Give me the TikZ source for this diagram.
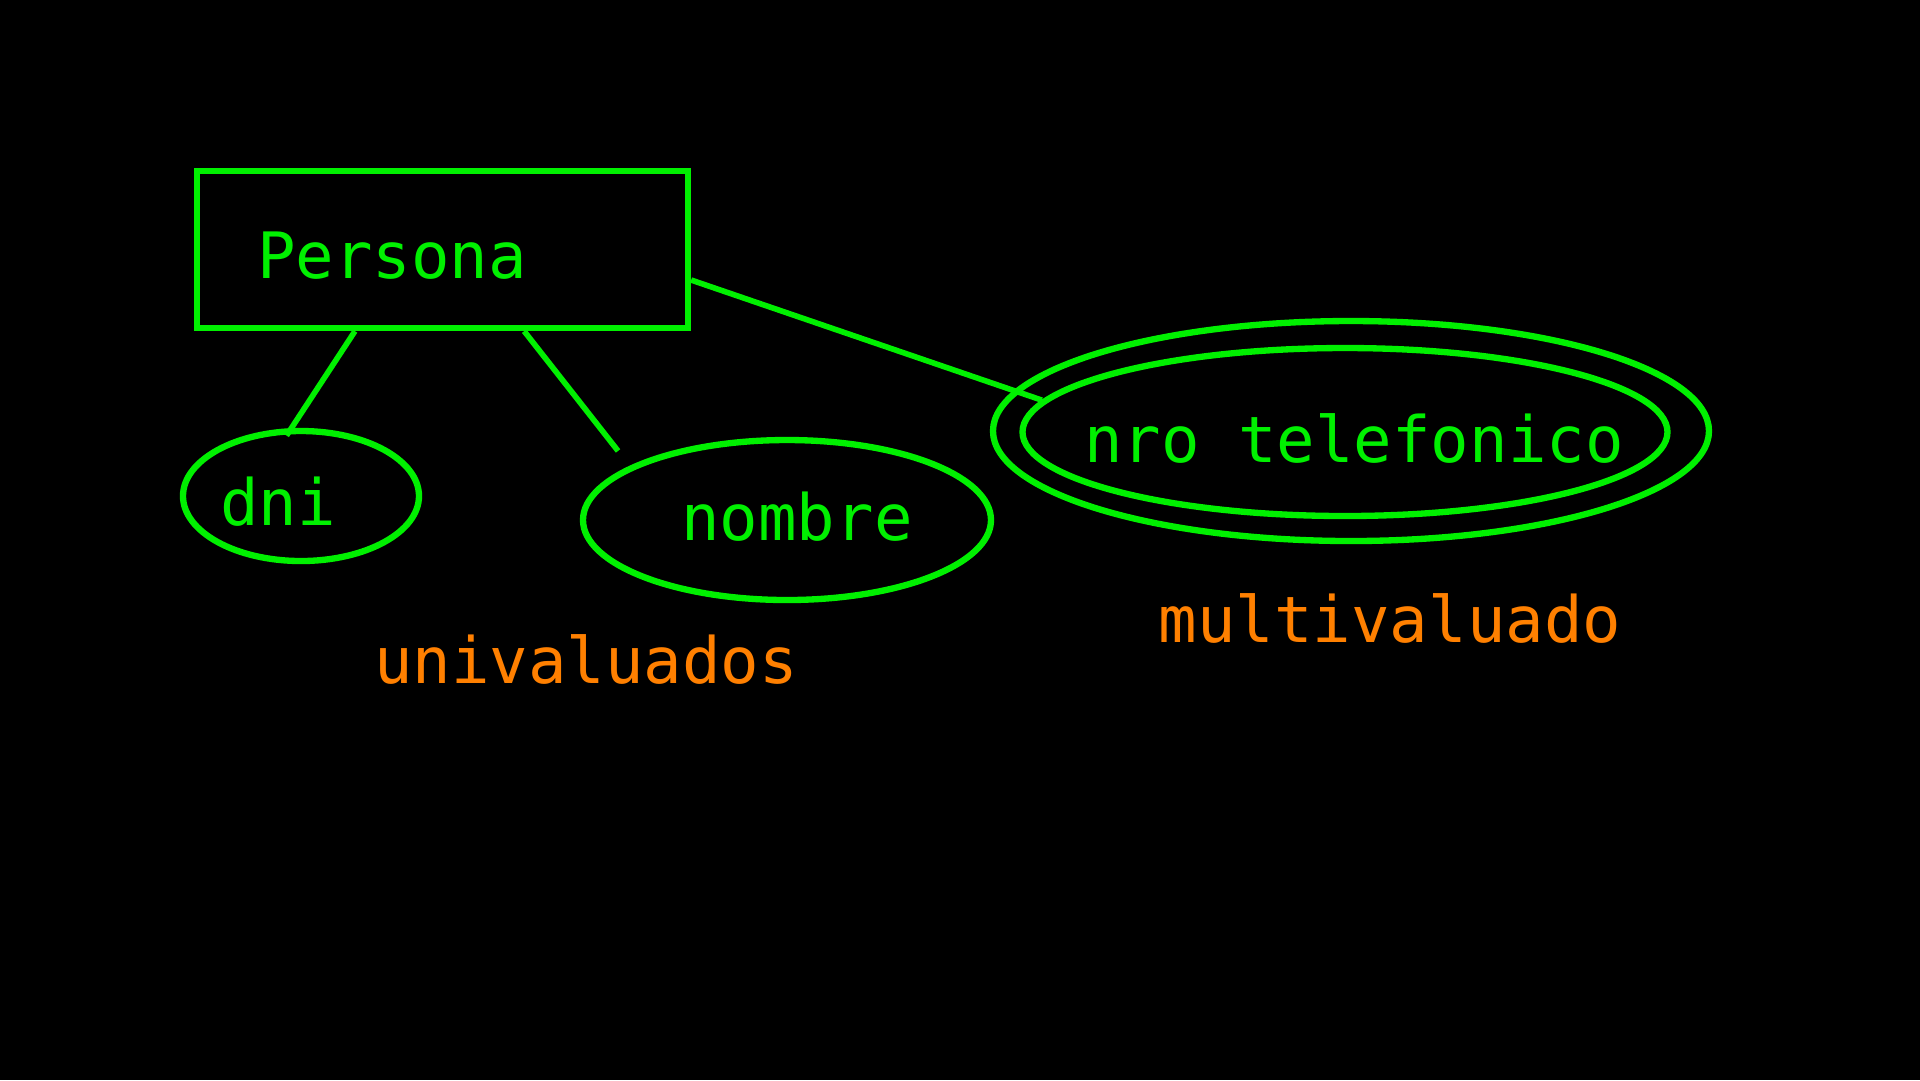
\documentclass[tikz,border=0pt]{standalone}
\usepackage{fontspec}
\usetikzlibrary{shapes.geometric}
\newfontfamily\dejamono{DejaVu Sans Mono}
\definecolor{ergreen}{RGB}{0,240,0}
\definecolor{ernote}{RGB}{255,128,0}

\begin{document}
\begin{tikzpicture}[x=0.1mm,y=-0.1mm,
	entity/.style={rectangle, draw=ergreen, line width=1.8pt, minimum width=4.91cm, minimum height=1.57cm, inner sep=0pt},
	attr/.style={ellipse, draw=ergreen, line width=1.8pt, inner sep=0pt},
	txt/.style={text=ergreen, inner sep=0pt, font=\dejamono\fontsize{18.2}{22}\selectfont},
	note/.style={text=ernote, inner sep=0pt, font=\dejamono\fontsize{18.2}{22}\selectfont},
	link/.style={draw=ergreen, line width=1.6pt}]

	%Background
	\fill[black] (0,0) rectangle (1920,1080);

	%Nodes
	\node[entity]	(persona)	at (442.5,249.5) {};
	\node[attr, minimum width=2.36cm, minimum height=1.30cm]	(dni)	at (301,496) {};
	\node[attr, minimum width=4.08cm, minimum height=1.60cm]	(nombre)	at (787,520) {};
	\node[attr, minimum width=7.16cm, minimum height=2.20cm]	(telout)	at (1351,431) {};
	\node[attr, minimum width=6.45cm, minimum height=1.68cm]	(tel)	at (1345,432) {};

	%Texts
	\node[txt]	(persona-t)	at (392,256) {Persona};
	\node[txt]	(dni-t)	at (278,502) {dni};
	\node[txt]	(nombre-t)	at (797,517) {nombre};
	\node[txt]	(tel-t)	at (1354,438) {nro telefonico};
	\node[note]	(uni)	at (586,659) {univaluados};
	\node[note]	(multi)	at (1390,618) {multivaluado};

	%Lines
	\draw[link, shorten >=-0.9mm] (persona.223) -- (dni.98);
	\draw[link, shorten >=1.9mm] (persona.315) -- (nombre.161);
	\draw[link] (persona.353) -- (tel.174);
\end{tikzpicture}
\end{document}
